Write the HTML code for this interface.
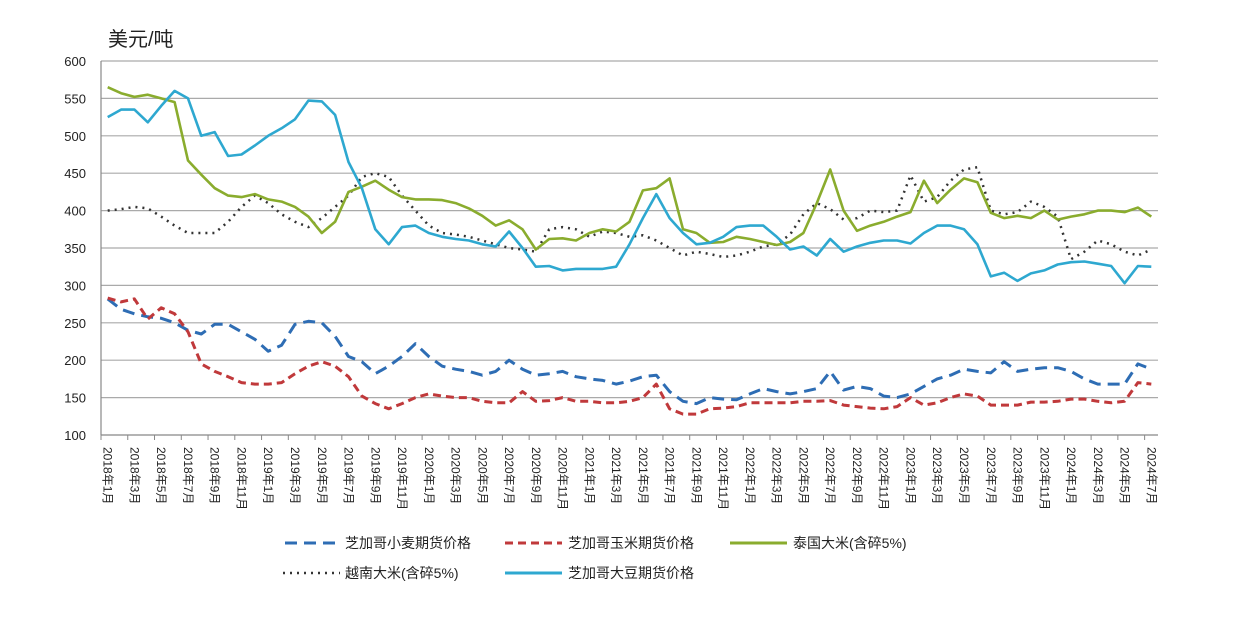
<!DOCTYPE html>
<html><head><meta charset="utf-8"><style>
body{margin:0;background:#fff}
svg text{font-family:"Liberation Sans","Noto Sans CJK SC",sans-serif;fill:#222}
</style></head><body>
<svg id="c" width="1240" height="614" xmlns="http://www.w3.org/2000/svg">
<rect width="1240" height="614" fill="#fff"/>
<text x="108" y="46" font-size="20">美元/吨</text>
<g id="grid"></g>
<g id="series"></g>
<g id="xl"></g>
<g font-size="14">
<line x1="285" y1="543" x2="340" y2="543" stroke="#2e6db4" stroke-width="3" stroke-dasharray="12,7"/>
<text x="345" y="548">芝加哥小麦期货价格</text>
<line x1="505" y1="543" x2="562" y2="543" stroke="#c0393b" stroke-width="3" stroke-dasharray="8,5"/>
<text x="568" y="548">芝加哥玉米期货价格</text>
<line x1="730" y1="543" x2="787" y2="543" stroke="#8aac2e" stroke-width="3"/>
<text x="793" y="548">泰国大米(含碎5%)</text>
<line x1="283" y1="573" x2="340" y2="573" stroke="#333" stroke-width="2.5" stroke-dasharray="2,5"/>
<text x="345" y="578">越南大米(含碎5%)</text>
<line x1="505" y1="573" x2="562" y2="573" stroke="#2ea8d0" stroke-width="3"/>
<text x="568" y="578">芝加哥大豆期货价格</text>
</g>
</svg>
<script>
const NS="http://www.w3.org/2000/svg";
const X0=101,X1=1158,N=79,W=(X1-X0)/N;
const Y=v=>435-(v-100)*0.748;
const g=document.getElementById('grid');
function el(t,a,p){const e=document.createElementNS(NS,t);for(const k in a)e.setAttribute(k,a[k]);p.appendChild(e);return e;}
for(let v=100;v<=600;v+=50){
  if(v>100)el('line',{x1:X0,x2:X1,y1:Y(v),y2:Y(v),stroke:'#aaa','stroke-width':1.2},g);
  const t=el('text',{x:86,y:Y(v)+5,'font-size':13,'text-anchor':'end'},g);t.textContent=v;
}
el('line',{x1:X0,x2:X1,y1:435,y2:435,stroke:'#888','stroke-width':1.2},g);
el('line',{x1:X0,x2:X0,y1:61,y2:435,stroke:'#888','stroke-width':1.2},g);
const xl=document.getElementById('xl');
for(let i=0;i<N;i++){
  if(i%2==0){const x=X0+W*i;el('line',{x1:x,x2:x,y1:435,y2:440,stroke:'#888'},g);}
  if(i%2==0){
    const y=2018+Math.floor(i/12),m=i%12+1,cx=X0+W*(i+0.5)-4;
    const t=el('text',{x:cx,y:447,'font-size':12,transform:`rotate(90 ${cx} 447)`},xl);
    t.textContent=y+'年'+m+'月';
  }
}
const S={
soy:[525,535,535,518,540,560,550,500,505,473,475,487,500,510,522,547,546,528,465,430,375,355,378,380,370,365,362,360,355,352,372,350,325,326,320,322,322,322,325,355,390,422,390,370,355,357,365,378,380,380,365,348,352,340,362,345,352,357,360,360,356,370,380,380,375,355,312,317,306,316,320,328,331,332,329,326,303,326,325],
thai:[565,557,552,555,550,545,467,448,430,420,418,422,415,412,405,392,370,385,425,432,440,428,418,415,415,414,410,403,393,380,387,375,348,362,363,360,370,375,372,385,427,430,443,375,370,357,358,365,362,358,354,358,370,410,455,400,373,380,385,392,398,440,410,428,443,438,397,390,393,390,400,388,392,395,400,400,398,404,392],
viet:[400,402,405,403,392,380,370,370,370,385,405,420,410,395,385,378,390,405,420,445,450,445,420,400,380,370,368,365,360,355,350,348,345,375,378,375,365,372,370,365,367,360,350,340,345,342,338,340,345,352,355,368,395,410,402,388,390,400,398,400,447,412,418,440,455,458,400,395,398,412,405,392,335,345,360,355,345,340,348],
wheat:[282,268,262,258,256,250,240,235,248,248,238,228,212,220,248,252,250,232,205,198,182,192,205,222,205,192,188,185,180,185,200,188,180,182,185,178,175,173,168,172,178,180,158,145,142,150,148,147,155,162,158,155,158,162,185,160,165,162,152,150,155,165,175,180,188,185,183,198,185,188,190,190,185,175,168,168,168,195,188],
corn:[283,278,282,255,270,262,238,195,185,178,170,168,168,170,182,192,198,192,178,152,142,135,142,150,155,152,150,150,145,143,143,158,145,146,150,145,145,143,143,145,150,168,135,128,128,135,136,138,143,143,143,143,145,145,146,140,138,136,135,138,150,140,143,150,155,152,140,140,140,144,144,145,148,148,145,143,145,170,168]};
const st={
wheat:{stroke:'#2e6db4','stroke-width':3,'stroke-dasharray':'12,7'},
corn:{stroke:'#c0393b','stroke-width':3,'stroke-dasharray':'8,5'},
thai:{stroke:'#8aac2e','stroke-width':2.6},
viet:{stroke:'#333','stroke-width':2.5,'stroke-dasharray':'2,5'},
soy:{stroke:'#2ea8d0','stroke-width':2.6}};
const sg=document.getElementById('series');
for(const k of ['wheat','corn','viet','thai','soy']){
  const pts=S[k].map((v,i)=>(X0+W*(i+0.5)).toFixed(1)+','+Y(v).toFixed(1)).join(' ');
  el('polyline',Object.assign({points:pts,fill:'none','stroke-linejoin':'round'},st[k]),sg);
}
</script>
</body></html>
